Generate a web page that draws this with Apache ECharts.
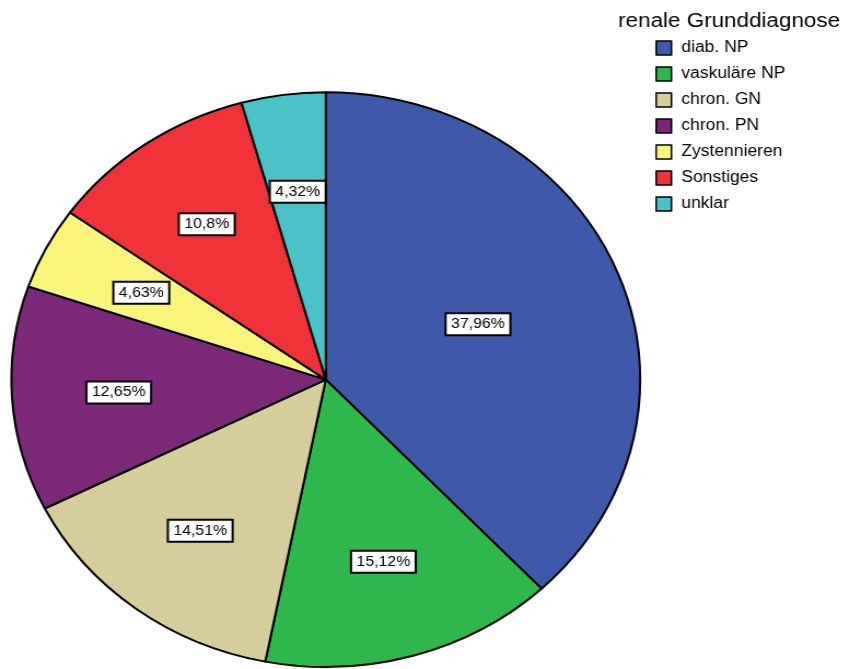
<!DOCTYPE html>
<html>
<head>
<meta charset="utf-8">
<script src="https://cdn.jsdelivr.net/npm/echarts@6/dist/echarts.min.js"></script>
<style>
  html, body { margin: 0; padding: 0; background: #fff; overflow: hidden; }
  /* the chart is drawn in a narrower box and stretched horizontally into an ellipse */
  #chart { width: 771px; height: 669px; transform: scaleX(1.094); transform-origin: 0 0; }
</style>
</head>
<body>
<div id="chart"></div>
<script>
// renale Grunddiagnose, Anteile in Prozent
const categories = ['diab. NP', 'vaskuläre NP', 'chron. GN', 'chron. PN', 'Zystennieren', 'Sonstiges', 'unklar'];
const percents = [37.96, 15.12, 14.51, 12.65, 4.63, 10.8, 4.32];
const colors = ['#3E58AA', '#2EB84B', '#D5CE9B', '#7B2879', '#F9F47A', '#F03339', '#4AC2C7'];
const legendTitle = 'renale Grunddiagnose';

const FONT = '"Liberation Sans", Arial, Helvetica, sans-serif';
const CENTER = [297.8, 379.6];
const R = 287.4;

const fmt = v => String(v).replace('.', ',') + '%';

const labelStyle = {
  show: true,
  position: 'inside',
  formatter: p => fmt(p.value),
  fontFamily: FONT,
  fontSize: 14.5,
  lineHeight: 16,
  color: '#000',
  backgroundColor: '#fff',
  borderColor: '#000',
  borderWidth: 2,
  padding: [2, 4]
};

const sliceData = categories.map((name, i) => ({
  name, value: percents[i], itemStyle: { color: colors[i] }
}));

// transparent copies of the pie that only carry the value boxes
const labelData = (keep) => categories.map((name, i) => ({
  name, value: percents[i],
  label: { show: keep(i) }
}));

const chart = echarts.init(document.getElementById('chart'), null, { renderer: 'canvas' });
chart.setOption({
  animation: false,
  title: {
    text: legendTitle,
    left: 560, top: 6,
    textStyle: { fontFamily: FONT, fontSize: 20.5, fontWeight: 'normal', color: '#000' }
  },
  legend: {
    orient: 'vertical',
    left: 594, top: 35,
    itemWidth: 14, itemHeight: 14, itemGap: 10,
    icon: 'rect',
    itemStyle: { borderColor: '#000', borderWidth: 1.5 },
    textStyle: { fontFamily: FONT, fontSize: 16, color: '#000', padding: [0, 0, 0, 4] },
    data: categories
  },
  series: [
    {
      type: 'pie',
      center: CENTER,
      radius: [0, R],
      startAngle: 90,
      clockwise: true,
      silent: true,
      label: { show: false },
      labelLine: { show: false },
      itemStyle: { borderColor: '#000', borderWidth: 2 },
      data: sliceData
    },
    {
      type: 'pie',
      center: CENTER,
      radius: [86, R],
      startAngle: 90,
      clockwise: true,
      silent: true,
      itemStyle: { color: 'transparent', borderWidth: 0 },
      label: labelStyle,
      labelLine: { show: false },
      data: labelData(i => i !== 0)
    },
    {
      type: 'pie',
      center: CENTER,
      radius: [6, R],
      startAngle: 90,
      clockwise: true,
      silent: true,
      itemStyle: { color: 'transparent', borderWidth: 0 },
      label: labelStyle,
      labelLine: { show: false },
      data: labelData(i => i === 0)
    }
  ]
});
</script>
</body>
</html>
